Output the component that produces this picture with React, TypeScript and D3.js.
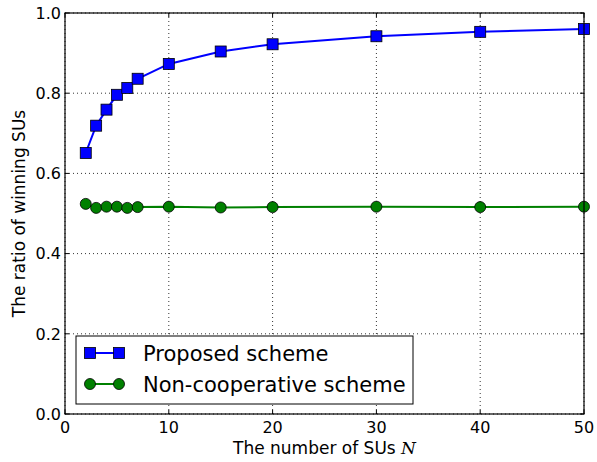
import React, { useEffect, useRef } from 'react';
import * as d3 from 'd3';

const nValues = [2, 3, 4, 5, 6, 7, 10, 15, 20, 30, 40, 50];
const proposed = [0.651, 0.719, 0.759, 0.796, 0.813, 0.836, 0.873, 0.904, 0.922, 0.942, 0.953, 0.960];
const nonCoop = [0.524, 0.514, 0.517, 0.517, 0.514, 0.516, 0.517, 0.515, 0.516, 0.517, 0.516, 0.517];
const xTicks = [0, 10, 20, 30, 40, 50];
const yTicks = [0, 0.2, 0.4, 0.6, 0.8, 1.0];
const legendLabels = ['Proposed scheme', 'Non-cooperative scheme'];

const App = () => {
  const ref = useRef<SVGSVGElement>(null);

  useEffect(() => {
    const svg = d3.select(ref.current);
    svg.selectAll('*').remove();

    const margin = { top: 13, right: 13, bottom: 48, left: 65 };
    const width = 597 - margin.left - margin.right,
          height = 462 - margin.top - margin.bottom;
    const font = 'DejaVu Sans, sans-serif';

    const x = d3.scaleLinear().domain([0, 50]).range([0, width]);
    const y = d3.scaleLinear().domain([0, 1]).range([height, 0]);

    const g = svg.append('g').attr('transform', `translate(${margin.left},${margin.top})`);

    // grid
    g.selectAll('.gx').data(xTicks).enter().append('line')
      .attr('x1', d => x(d)).attr('x2', d => x(d)).attr('y1', 0).attr('y2', height)
      .attr('stroke', '#000').attr('stroke-width', 0.8).attr('stroke-dasharray', '1,3');
    g.selectAll('.gy').data(yTicks).enter().append('line')
      .attr('y1', d => y(d)).attr('y2', d => y(d)).attr('x1', 0).attr('x2', width)
      .attr('stroke', '#000').attr('stroke-width', 0.8).attr('stroke-dasharray', '1,3');

    // inward ticks on all sides
    const tl = 4;
    xTicks.forEach(t => {
      g.append('line').attr('x1', x(t)).attr('x2', x(t)).attr('y1', height).attr('y2', height - tl).attr('stroke', '#000');
      g.append('line').attr('x1', x(t)).attr('x2', x(t)).attr('y1', 0).attr('y2', tl).attr('stroke', '#000');
    });
    yTicks.forEach(t => {
      g.append('line').attr('y1', y(t)).attr('y2', y(t)).attr('x1', 0).attr('x2', tl).attr('stroke', '#000');
      g.append('line').attr('y1', y(t)).attr('y2', y(t)).attr('x1', width).attr('x2', width - tl).attr('stroke', '#000');
    });

    // tick labels
    g.selectAll('.xl').data(xTicks).enter().append('text')
      .attr('x', d => x(d)).attr('y', height + 19)
      .attr('text-anchor', 'middle').attr('font-family', font).attr('font-size', 16)
      .text(d => d3.format('d')(d));
    g.selectAll('.yl').data(yTicks).enter().append('text')
      .attr('x', -4).attr('y', d => y(d)).attr('dy', '0.36em')
      .attr('text-anchor', 'end').attr('font-family', font).attr('font-size', 16)
      .text(d => d3.format('.1f')(d));

    // axis labels
    const xl = g.append('text')
      .attr('x', width / 2).attr('y', height + 40)
      .attr('text-anchor', 'middle').attr('font-family', font).attr('font-size', 17);
    xl.append('tspan').text('The number of SUs ');
    xl.append('tspan').attr('font-family', 'DejaVu Serif, serif').attr('font-style', 'italic').text('N');

    g.append('text')
      .attr('transform', `translate(${-40},${height / 2}) rotate(-90)`)
      .attr('text-anchor', 'middle').attr('font-family', font).attr('font-size', 17)
      .text('The ratio of winning SUs');

    const line = d3.line<number>().x((d, i) => x(nValues[i])).y(d => y(d));

    // proposed
    g.append('path').datum(proposed).attr('d', line)
      .attr('fill', 'none').attr('stroke', '#0000ff').attr('stroke-width', 2);
    g.selectAll('.sq').data(proposed).enter().append('rect')
      .attr('x', (d, i) => x(nValues[i]) - 5.5).attr('y', d => y(d) - 5.5)
      .attr('width', 11).attr('height', 11)
      .attr('fill', '#0000ff').attr('stroke', '#000').attr('stroke-width', 0.8);

    // non-cooperative
    g.append('path').datum(nonCoop).attr('d', line)
      .attr('fill', 'none').attr('stroke', '#008000').attr('stroke-width', 2);
    g.selectAll('.ci').data(nonCoop).enter().append('circle')
      .attr('cx', (d, i) => x(nValues[i])).attr('cy', d => y(d)).attr('r', 5.5)
      .attr('fill', '#008000').attr('stroke', '#000').attr('stroke-width', 0.8);

    // frame
    g.append('rect').attr('width', width).attr('height', height)
      .attr('fill', 'none').attr('stroke', '#000').attr('stroke-width', 1.2);

    // legend
    const lg = g.append('g').attr('transform', `translate(11,${height - 78})`);
    lg.append('rect').attr('width', 337).attr('height', 68)
      .attr('fill', '#fff').attr('stroke', '#000').attr('stroke-width', 1);
    const rows = [
      { color: '#0000ff', shape: 'square', label: legendLabels[0] },
      { color: '#008000', shape: 'circle', label: legendLabels[1] },
    ];
    rows.forEach((r, i) => {
      const cy = 17 + i * 31;
      lg.append('line').attr('x1', 14).attr('x2', 43).attr('y1', cy).attr('y2', cy)
        .attr('stroke', r.color).attr('stroke-width', 2);
      [14, 43].forEach(cx => {
        if (r.shape === 'square') {
          lg.append('rect').attr('x', cx - 5.5).attr('y', cy - 5.5).attr('width', 11).attr('height', 11)
            .attr('fill', r.color).attr('stroke', '#000').attr('stroke-width', 0.8);
        } else {
          lg.append('circle').attr('cx', cx).attr('cy', cy).attr('r', 5.5)
            .attr('fill', r.color).attr('stroke', '#000').attr('stroke-width', 0.8);
        }
      });
      lg.append('text').attr('x', 67).attr('y', cy).attr('dy', '0.36em')
        .attr('font-family', font).attr('font-size', 21).text(r.label);
    });
  }, []);

  return (
    <svg ref={ref} width={597} height={462}
      style={{ position: 'absolute', left: 0, top: 0, background: '#fff' }} />
  );
};

export default App;
